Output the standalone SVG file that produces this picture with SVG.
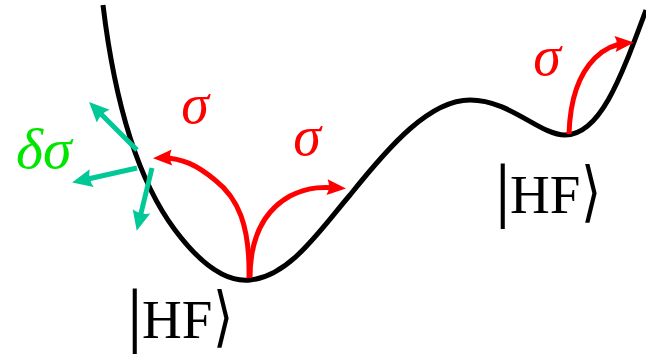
<svg xmlns="http://www.w3.org/2000/svg" width="646" height="359" viewBox="0 0 646 359">
<style>
.curve{fill:none;stroke:#000;stroke-width:5}
.red{fill:none;stroke:#FF0000;stroke-width:5}
.grn{fill:none;stroke:#00C896;stroke-width:5}
.sig{font-family:"Liberation Serif","DejaVu Serif",serif;font-style:italic;font-size:56px;fill:#FF0000}
.dsig{font-family:"Liberation Serif","DejaVu Serif",serif;font-style:italic;font-size:58px;fill:#00E600}
.hf{font-family:"Liberation Serif","DejaVu Serif",serif;font-size:55px;fill:#000}
.dl{font-family:"DejaVu Serif",serif;font-size:52px;fill:#000}
</style>
<defs>
<marker id="ar" viewBox="-14 -10 22 20" markerWidth="22" markerHeight="20" refX="0" refY="0" orient="auto" markerUnits="userSpaceOnUse" overflow="visible">
<path d="M7,0 L-12,-8 Q-8,0 -12,8 Z" fill="#FF0000"/>
</marker>
<marker id="ag" viewBox="-14 -10 22 20" markerWidth="22" markerHeight="20" refX="0" refY="0" orient="auto" markerUnits="userSpaceOnUse" overflow="visible">
<path d="M7,0 L-13,-9 Q-9,0 -13,9 Z" fill="#00C896"/>
</marker>
</defs>
<g id="energy-curve">
<path class="curve" d="M103,5 C112,80 130,170 175,230 C205,270 230,282 250,280 C290,276 320,230 350,195 C390,145 430,100 470,100 C510,100 540,135 565,135 C600,135 620,80 646,10"/>
</g>
<g id="connectors">
<path class="red" d="M249,278 C250,225 238,198 215,180 C198,166 182,157 160,158" marker-end="url(#ar)"/>
<path class="red" d="M250,278 C250,235 265,210 290,196 C310,186 325,187 339,188" marker-end="url(#ar)"/>
<path class="red" d="M569,134 C570,100 578,75 595,58 C605,48 615,44 627,43" marker-end="url(#ar)"/>
<path class="grn" d="M137,150 L94,107" marker-end="url(#ag)"/>
<path class="grn" d="M137,168 L79,181" marker-end="url(#ag)"/>
<path class="grn" d="M152,168 L138.4,224" marker-end="url(#ag)"/>
</g>
<g id="labels">
<text class="sig" x="195" y="123" text-anchor="middle">σ</text>
<text class="sig" x="307" y="155" text-anchor="middle">σ</text>
<text class="sig" x="547" y="75" text-anchor="middle">σ</text>
<text class="dsig" x="16" y="168">δσ</text>
</g>
<g id="hf-left">
<text class="dl" transform="translate(126,339) scale(1,1.27)">|</text>
<text class="hf" x="142" y="338">HF</text>
<text class="dl" transform="translate(213,339) scale(1,1.27)">⟩</text>
</g>
<g id="hf-right">
<text class="dl" transform="translate(494,214) scale(1,1.27)">|</text>
<text class="hf" x="510" y="213">HF</text>
<text class="dl" transform="translate(581,214) scale(1,1.27)">⟩</text>
</g>
</svg>
